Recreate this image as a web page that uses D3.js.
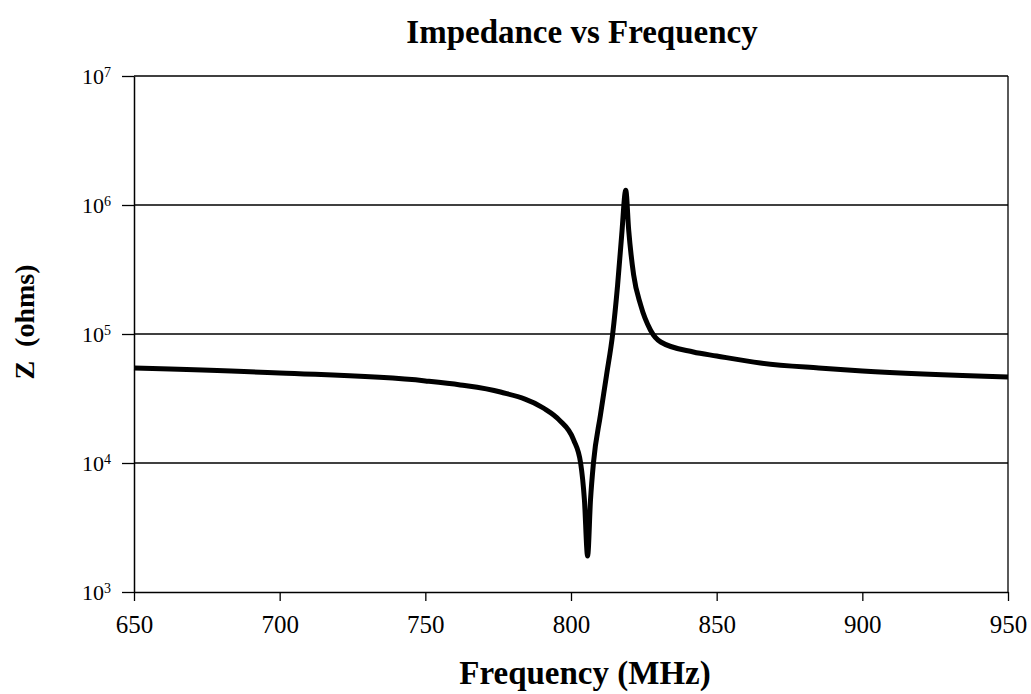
<!DOCTYPE html>
<html>
<head>
<meta charset="utf-8">
<script src="https://cdn.jsdelivr.net/npm/d3@7"></script>
<style>
  body { margin: 0; background: #fff; }
  text { font-family: 'Liberation Serif', 'Times New Roman', serif; fill: #000; }
</style>
</head>
<body>
<svg width="1031" height="694"></svg>
<script>
// data (MHz, ohms)
const freq = [650, 700, 750, 762, 775.8, 790.5, 796, 800.9, 803.3, 804.6, 805.7, 806.7, 807.7, 810.1, 812.2, 814.3, 816, 817.4, 818.8, 819.8, 821.5, 823.9, 827.3, 830.8, 842, 850, 865, 885, 900, 950];
const impedance = [54500, 49900, 43300, 40300, 35500, 26700, 21500, 15100, 10000, 5200, 1900, 5200, 10000, 23500, 48000, 100000, 240000, 585000, 1300000, 640000, 287000, 168000, 107000, 86700, 72500, 67500, 59600, 54500, 51700, 46400];

const xTicks = [650, 700, 750, 800, 850, 900, 950];
const yTicks = [1e3, 1e4, 1e5, 1e6, 1e7];

const svg = d3.select('svg');
const margin = { left: 134, right: 1008, top: 76, bottom: 592 };

const x = d3.scaleLinear().domain([650, 950]).range([margin.left, margin.right]);
const y = d3.scaleLog().domain([1e3, 1e7]).range([margin.bottom, margin.top]);

// title
svg.append('text')
  .attr('x', 582)
  .attr('y', 43)
  .attr('text-anchor', 'middle')
  .attr('font-size', 33)
  .attr('font-weight', 'bold')
  .text('Impedance vs Frequency');

// gridlines
svg.append('g')
  .selectAll('line')
  .data(yTicks.slice(1))
  .enter()
  .append('line')
  .attr('x1', margin.left)
  .attr('x2', margin.right)
  .attr('y1', (d) => y(d))
  .attr('y2', (d) => y(d))
  .attr('stroke', '#000')
  .attr('stroke-width', 1.3);

// right border
svg.append('line')
  .attr('x1', margin.right).attr('x2', margin.right)
  .attr('y1', margin.top).attr('y2', margin.bottom)
  .attr('stroke', '#000').attr('stroke-width', 1.3);

// x axis
const xAxis = svg.append('g')
  .attr('transform', `translate(0,${margin.bottom})`)
  .call(d3.axisBottom(x).tickValues(xTicks).tickSize(9).tickSizeOuter(0).tickPadding(14));
xAxis.select('.domain').attr('stroke-width', 1.5);
xAxis.selectAll('.tick line').attr('stroke-width', 1.3);
xAxis.selectAll('.tick text')
  .attr('font-family', "'Liberation Serif', serif")
  .attr('font-size', 25);

// y axis
const yAxis = svg.append('g')
  .attr('transform', `translate(${margin.left},0)`)
  .call(d3.axisLeft(y).tickValues(yTicks).tickSize(12).tickSizeOuter(0).tickFormat(() => ''));
yAxis.select('.domain').attr('stroke-width', 1.5);
yAxis.selectAll('.tick line').attr('stroke-width', 1.3);

// power-of-ten labels
const yLab = yAxis.selectAll('.tick')
  .append('text')
  .attr('x', -23)
  .attr('dy', '0.35em')
  .attr('text-anchor', 'end')
  .attr('font-family', "'Liberation Serif', serif")
  .attr('font-size', 22);
yLab.append('tspan').text('10');
yLab.append('tspan')
  .attr('dy', '-0.55em')
  .attr('font-size', 14)
  .text((d) => Math.round(Math.log10(d)));

// axis titles
svg.append('text')
  .attr('x', 585)
  .attr('y', 684)
  .attr('text-anchor', 'middle')
  .attr('font-size', 33)
  .attr('font-weight', 'bold')
  .text('Frequency (MHz)');

svg.append('text')
  .attr('transform', 'translate(34,322) rotate(-90)')
  .attr('text-anchor', 'middle')
  .attr('font-size', 28)
  .attr('font-weight', 'bold')
  .attr('xml:space', 'preserve')
  .text('Z  (ohms)');

// impedance curve
const pts = freq.map((f, i) => [f, impedance[i]]);
const line = d3.line()
  .x((d) => x(d[0]))
  .y((d) => y(d[1]))
  .curve(d3.curveMonotoneX);

svg.append('path')
  .datum(pts)
  .attr('d', line)
  .attr('fill', 'none')
  .attr('stroke', '#000')
  .attr('stroke-width', 5)
  .attr('stroke-linejoin', 'round');
</script>
</body>
</html>
